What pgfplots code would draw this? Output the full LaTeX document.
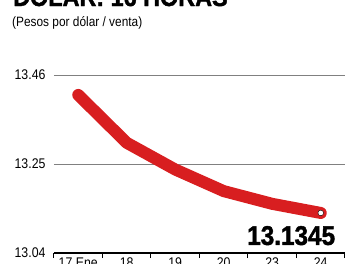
\documentclass[border=0pt]{standalone}
\usepackage{fontspec}
\setmainfont{Liberation Sans}[FakeStretch=0.88]
\newfontfamily\heavyfont{Liberation Sans}[FakeStretch=0.9, BoldFeatures={FakeBold=1.6}]
\usepackage{pgfplots}
\pgfplotsset{compat=1.18}
\definecolor{lred}{HTML}{D81E20}
\definecolor{gridg}{HTML}{808080}
\begin{document}
\begin{tikzpicture}
\useasboundingbox (-54pt,-10pt) rectangle (299pt,253pt);
\clip (-54pt,-10pt) rectangle (299pt,253pt);
\node[anchor=base west, inner sep=0pt] at (-41pt,247pt) {\fontsize{26}{26}\heavyfont\bfseries DÓLAR: 16 HORAS};
\node[anchor=base west, inner sep=0pt] at (-42pt,227pt) {\fontsize{13.5}{13.5}\selectfont (Pesos por dólar / venta)};
\begin{axis}[
  at={(0pt,0pt)}, anchor=south west,
  scale only axis, width=291pt, height=178pt,
  xmin=-0.5, xmax=5.5, ymin=13.04, ymax=13.46,
  clip=false,
  axis x line*=bottom, axis y line*=left,
  x axis line style={line width=1.2pt, black, -},
  y axis line style={draw=none},
  xtick={-0.5,0.5,1.5,2.5,3.5,4.5,5.5},
  xticklabels={},
  x tick style={black, line width=1pt},
  major tick length=5pt,
  tick align=outside,
  extra x ticks={0,1,2,3,4,5},
  extra x tick labels={17 Ene,18,19,20,23,24},
  extra x tick style={major tick length=0pt, grid=none},
  ytick={13.04,13.25,13.46},
  yticklabels={13.04,13.25,13.46},
  y tick style={draw=none},
  ymajorgrids,
  grid style={gridg, line width=1pt},
  yticklabel style={font=\fontsize{14}{14}\selectfont, anchor=east, xshift=0pt},
  xticklabel style={font=\fontsize{14}{14}\selectfont, yshift=-1pt},
  /pgf/number format/assume math mode=true,
]
\addplot[lred, line width=12pt, line cap=round, line join=round] coordinates {(0,13.413)(1,13.300)(2,13.237)(3,13.186)(4,13.156)(5,13.1345)};
\addplot[only marks, mark=*, mark size=2.8pt, mark options={fill=white, draw=none}] coordinates {(5,13.1345)};
\node[anchor=north east, inner sep=0pt] at (axis cs:5.3,13.104) {\fontsize{27}{27}\heavyfont\bfseries 13.1345};
\end{axis}
\end{tikzpicture}
\end{document}
